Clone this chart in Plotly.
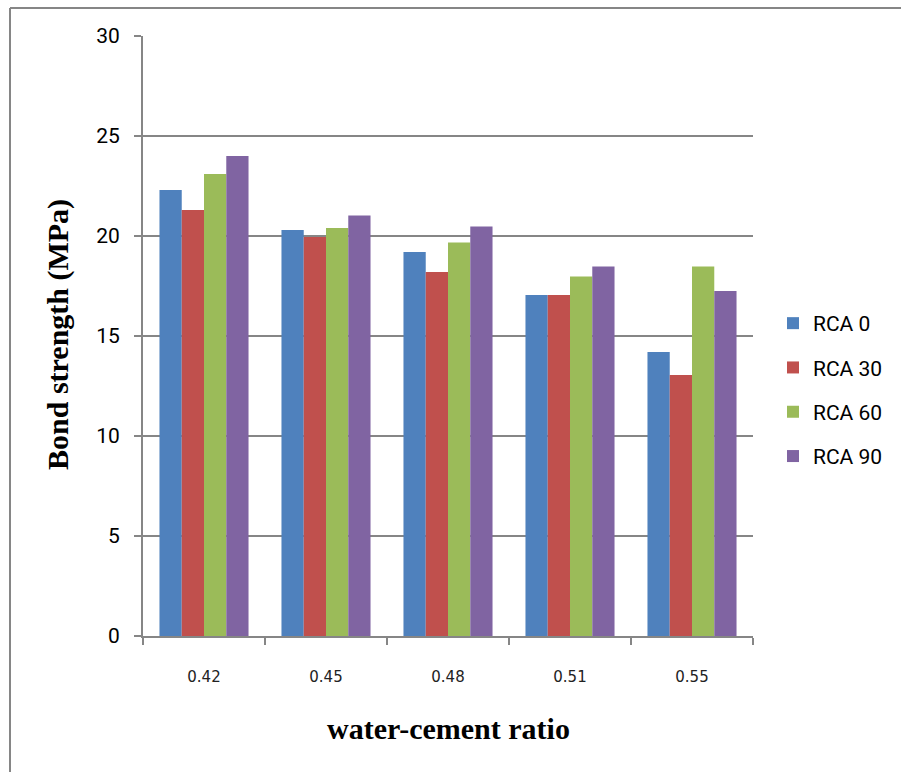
import plotly.graph_objects as go

categories = ["0.42", "0.45", "0.48", "0.51", "0.55"]
series_names = ["RCA 0", "RCA 30", "RCA 60", "RCA 90"]
rca0 = [22.3, 20.3, 19.2, 17.05, 14.2]
rca30 = [21.3, 19.95, 18.2, 17.05, 13.05]
rca60 = [23.1, 20.4, 19.67, 17.97, 18.48]
rca90 = [24.0, 21.03, 20.47, 18.48, 17.25]
colors = ["#4F81BD", "#C0504D", "#9BBB59", "#8064A2"]
y_ticks = [0, 5, 10, 15, 20, 25, 30]

W, H = 901, 772
L, R, T, B = 143, 148, 36, 136
pw, ph = W - L - R, H - T - B

def px_x(x):
    return (x - L) / pw

def px_y(y):
    return (H - B - y) / ph

fig = go.Figure()
for i, (name, vals) in enumerate(zip(series_names, [rca0, rca30, rca60, rca90])):
    fig.add_trace(go.Bar(
        x=categories, y=vals, name=name,
        marker=dict(color=colors[i], line=dict(width=0)),
        legendgroup=name,
    ))

gray = "#868686"
fig.update_layout(
    width=W, height=H,
    margin=dict(l=L, r=R, t=T, b=B, autoexpand=False),
    paper_bgcolor="white", plot_bgcolor="white",
    barmode="group", bargap=0.27, bargroupgap=0,
    font=dict(family="Roboto", color="black"),
    legend=dict(
        x=px_x(773), y=px_y(390), xanchor="left", yanchor="middle",
        font=dict(family="Roboto", size=21, color="black"),
        tracegroupgap=14, traceorder="grouped",
        itemwidth=30,
    ),
    xaxis=dict(
        type="category", showline=True, linecolor=gray, linewidth=2,
        ticks="outside", tickson="boundaries", ticklen=7, tickcolor=gray, tickwidth=2,
        tickfont=dict(family="DejaVu Sans", size=15, color="#222"),
        ticklabelstandoff=26, showgrid=False,
    ),
    yaxis=dict(
        range=[0, 30], tickvals=y_ticks, showline=True, linecolor=gray, linewidth=2,
        ticks="outside", ticklen=7, tickcolor=gray, tickwidth=2,
        showgrid=True, gridcolor=gray, gridwidth=2,
        tickfont=dict(family="Roboto", size=21, color="black"),
        ticklabelstandoff=10, zeroline=False,
    ),
    annotations=[
        dict(text="<b>Bond strength (MPa)</b>", textangle=-90,
             xref="paper", yref="paper", x=px_x(58), y=px_y(335),
             xanchor="center", yanchor="middle", showarrow=False,
             font=dict(family="Liberation Serif", size=30, color="black")),
        dict(text="<b>water-cement ratio</b>",
             xref="paper", yref="paper", x=px_x(448), y=px_y(728),
             xanchor="center", yanchor="middle", showarrow=False,
             font=dict(family="Liberation Serif", size=30, color="black")),
    ],
    shapes=[
        dict(type="line", xref="paper", yref="paper",
             x0=px_x(10), x1=px_x(920), y0=px_y(8), y1=px_y(8),
             line=dict(color=gray, width=2)),
        dict(type="line", xref="paper", yref="paper",
             x0=px_x(10), x1=px_x(10), y0=px_y(8), y1=px_y(790),
             line=dict(color=gray, width=2)),
    ],
)

fig.write_html("out.html")
